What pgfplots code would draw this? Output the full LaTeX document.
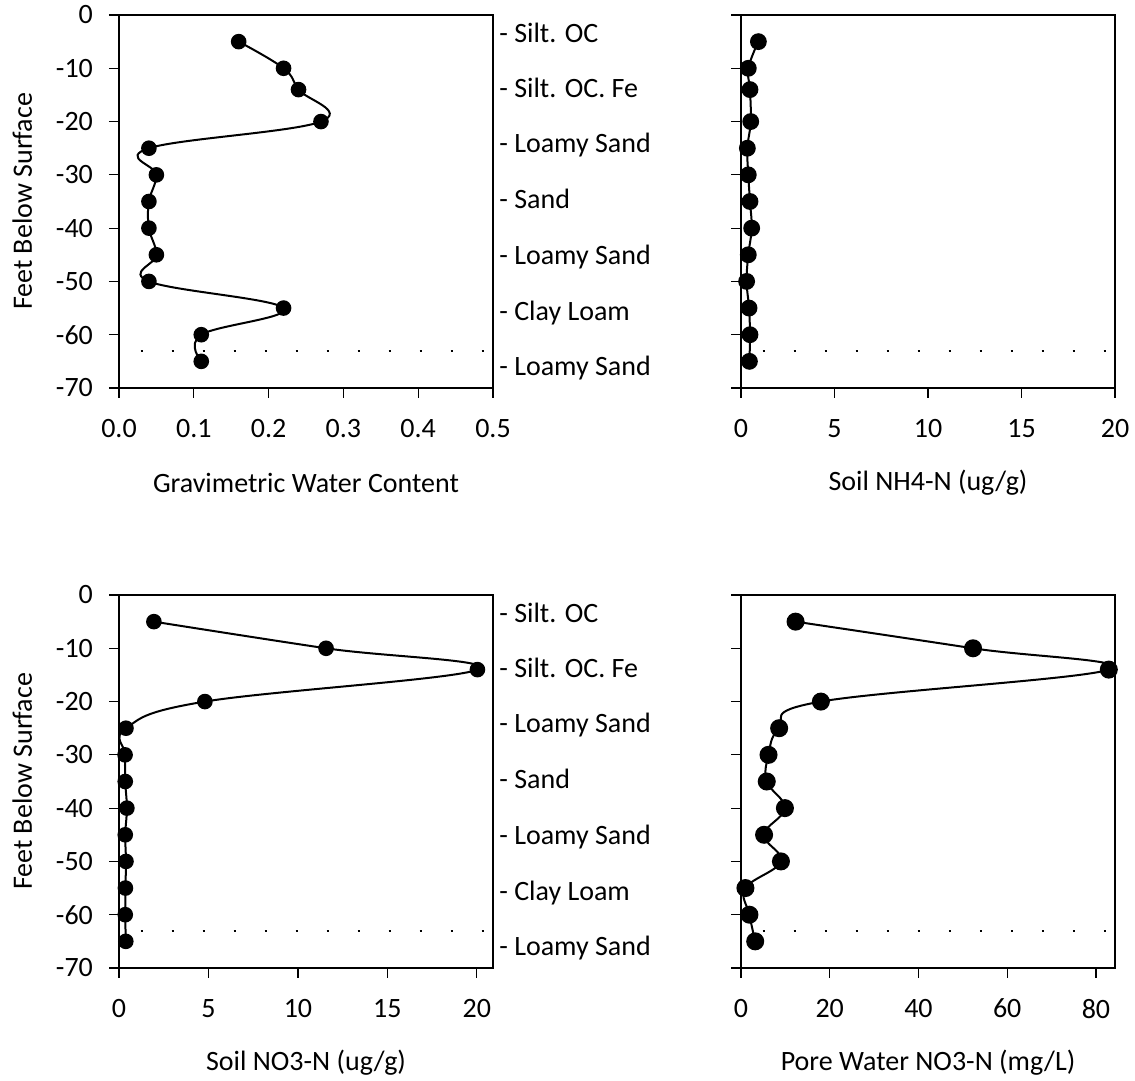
\documentclass[border=0pt]{standalone}
\usepackage{fontspec}
\setmainfont{Carlito}
\usepackage{pgfplots}
\pgfplotsset{compat=1.18}
\newcommand{\fs}{\fontsize{14}{16.5}\selectfont}
\pgfplotsset{
 panel/.style={
  scale only axis, width=187pt, height=186.5pt,
  anchor=north west, clip=false,
  xmin=0, ymin=-70, ymax=0, ytick={-70,-60,...,0},
  axis line style={line width=0.6pt},
  every tick/.style={line width=0.6pt, black},
  tick align=outside,
  xtick pos=bottom, ytick pos=left,
  major tick length=5pt,
  every tick label/.append style={font=\fs},
  xticklabel style={yshift=-7pt},
  yticklabel style={xshift=-4.5pt},
  label style={font=\fs},
  /pgf/number format/assume math mode=true,
  xlabel style={at={(axis description cs:0.5,0)}, anchor=center, yshift=-47.5pt},
  ylabel style={at={(axis description cs:-0.259,0.5)}, anchor=center},
 },
 prof/.style={black, line width=1pt, smooth, tension=0.65, mark=*, mark size=3.4pt, mark options={fill=black, solid}},
 dots/.style={black, line width=1pt, dash pattern=on 1pt off 14.5pt, line cap=butt, mark=none, forget plot},
}
\newcommand{\soils}[1]{%
 \foreach \yy/\tt in {-3.4/Silt. OC, -13.8/Silt. OC. Fe, -24.2/Loamy Sand, -34.7/Sand, -45.2/Loamy Sand, -55.6/Clay Loam, -66.0/Loamy Sand}{%
  \edef\tmp{\noexpand\node[anchor=base west, inner sep=0pt, xshift=3pt, yshift=-4.5pt, font=\noexpand\fs] at (axis cs:#1,\yy) {- \tt};}\tmp
 }%
}
\begin{document}
\begin{tikzpicture}
\useasboundingbox (0,0) rectangle (567.5pt,-540.5pt);
% top left
\begin{axis}[panel, at={(59.5pt,-7.5pt)}, xmax=0.5, xtick={0,0.1,...,0.5},
  xticklabel style={/pgf/number format/.cd, fixed, fixed zerofill, precision=1},
  xlabel={Gravimetric Water Content}, ylabel={Feet Below Surface}]
\addplot[dots] coordinates {(0.029,-63) (0.5,-63)};
\addplot[prof] coordinates {(0.16,-5) (0.22,-10) (0.24,-14) (0.27,-20) (0.04,-25) (0.05,-30) (0.04,-35) (0.04,-40) (0.05,-45) (0.04,-50) (0.22,-55) (0.11,-60) (0.11,-65)};
\soils{0.5}
\end{axis}
% top right
\begin{axis}[panel, at={(370.5pt,-7.5pt)}, xmax=20, xtick={0,5,...,20}, yticklabels={},
  xlabel={Soil NH4-N (ug/g)}]
\addplot[dots] coordinates {(1.16,-63) (20,-63)};
\addplot[prof, mark size=3.7pt] coordinates {(0.93,-5) (0.39,-10) (0.48,-14) (0.52,-20) (0.34,-25) (0.39,-30) (0.48,-35) (0.57,-40) (0.39,-45) (0.30,-50) (0.43,-55) (0.48,-60) (0.45,-65)};
\end{axis}
% bottom left
\begin{axis}[panel, at={(59.5pt,-297.5pt)}, xmax=20.9, xtick={0,5,...,20},
  xlabel={Soil NO3-N (ug/g)}, ylabel={Feet Below Surface}]
\addplot[dots] coordinates {(1.21,-63) (20.9,-63)};
\addplot[prof] coordinates {(1.95,-5) (11.57,-10) (20.03,-14) (4.8,-20) (0.39,-25) (0.34,-30) (0.35,-35) (0.44,-40) (0.35,-45) (0.39,-50) (0.36,-55) (0.35,-60) (0.38,-65)};
\soils{20.9}
\end{axis}
% bottom right
\begin{axis}[panel, at={(370.5pt,-297.5pt)}, xmax=84.3, xtick={0,20,...,80}, yticklabels={},
  xlabel={Pore Water NO3-N (mg/L)}]
\addplot[dots] coordinates {(4.9,-63) (84.3,-63)};
\addplot[prof, mark size=4pt] coordinates {(12.3,-5) (52.3,-10) (82.9,-14) (18.0,-20) (8.6,-25) (6.2,-30) (5.8,-35) (9.9,-40) (5.2,-45) (9.0,-50) (1.0,-55) (1.9,-60) (3.2,-65)};
\end{axis}
\end{tikzpicture}
\end{document}
